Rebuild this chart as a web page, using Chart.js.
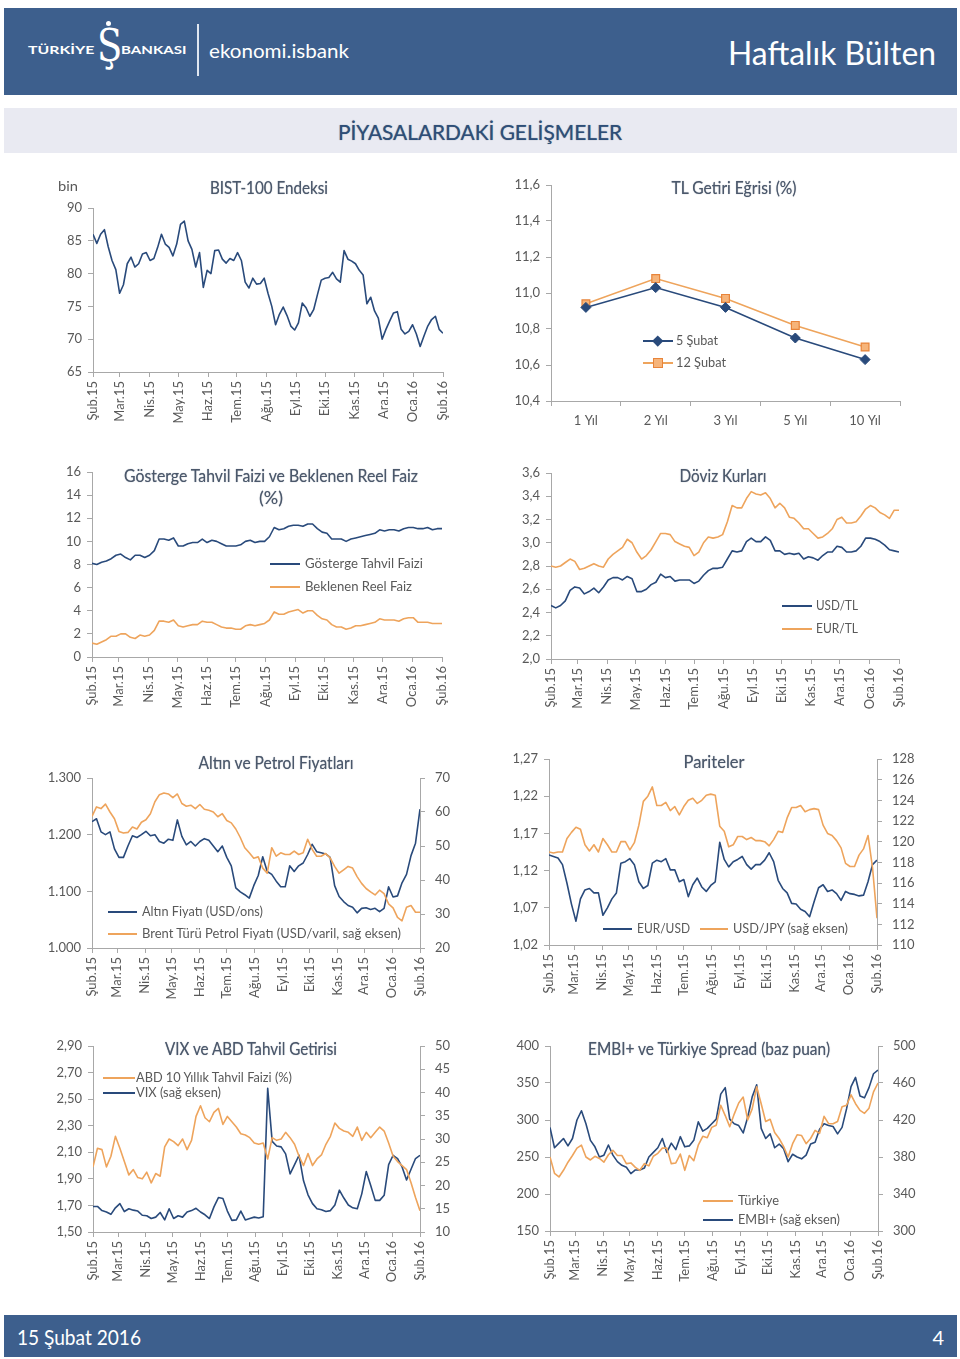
<!DOCTYPE html>
<html><head><meta charset="utf-8">
<script src="https://cdn.jsdelivr.net/npm/chart.js@4.4.1/dist/chart.umd.min.js"></script>
<style>
body{margin:0;width:960px;height:1359px;position:relative;background:#fff;font-family:Lato,'Open Sans',sans-serif;overflow:hidden}
.box{position:absolute}
.txt{position:absolute;white-space:nowrap;line-height:1.2}
.title{color:#4b586b;text-shadow:0 0 1px rgba(40,55,80,0.55)}
.leg{color:#595959}
.w{color:#fff}
</style>
</head><body>
<div class="box" style="left:4px;top:8px;width:953px;height:87px;background:#3d5f8d"></div>
<div class="box" style="left:197px;top:24px;width:1.5px;height:52px;background:#dfe6f0"></div>
<div class="box" style="left:4px;top:108px;width:953px;height:45px;background:#e9eaf2"></div>
<div class="box" style="left:4px;top:1315px;width:953px;height:42px;background:#3d5f8d"></div>
<div class="box" style="left:106px;top:21px;width:5px;height:5px;border-radius:50%;background:#fff"></div>
<script>
// ---------- DATA ----------
const MONTHS = ['Şub.15','Mar.15','Nis.15','May.15','Haz.15','Tem.15','Ağu.15','Eyl.15','Eki.15','Kas.15','Ara.15','Oca.16','Şub.16'];
const MONTH_DAYS = [0,28,59,89,120,150,181,212,242,273,303,334,365]; // days since 12 Feb 2015

const bistTicks = [65,70,75,80,85,90];
const bist = [86,84.6,86,86.7,84.1,82,80.6,77,78.3,81.5,82.5,81,81.5,83,83.2,82,82.3,84,86,84.5,84,82.7,84.5,87.5,88,85,83.7,81,83.2,77.9,80.5,80,83.5,83.6,82.2,81.6,82.3,82,83.2,82,78.7,77.8,79.3,78.4,78.5,79.3,77,75,72.2,73.8,74.9,73.6,72,71.4,72.5,75.5,74.8,73.5,74.5,76.8,79,79.3,79.4,80.2,79.2,78.7,83.5,82.2,81.9,81.5,80.5,79.8,75.4,76.4,74.3,73.2,70,71.5,72.8,74,74.2,71.5,70.8,71.2,72.2,70.8,68.9,70.5,72,73,73.5,71.5,70.9];

const tlCats = ['1 Yıl','2 Yıl','3 Yıl','5 Yıl','10 Yıl'];
const tlTicks = [10.4,10.6,10.8,11.0,11.2,11.4,11.6];
const tlFeb5 = [10.92,11.03,10.92,10.75,10.63];
const tlFeb12 = [10.94,11.08,10.97,10.82,10.70];

const faizTicks = [0,2,4,6,8,10,12,14,16];
const gosterge = [8.1,8.0,8.2,8.3,8.5,8.8,8.9,8.6,8.4,8.8,8.8,8.6,8.8,9.2,10.2,10.2,10.1,10.3,9.6,9.6,9.8,9.9,9.9,10.2,9.9,10.1,10.0,9.8,9.6,9.6,9.6,9.7,10.0,10.1,9.9,10.0,10.0,10.4,11.2,11.0,11.1,11.3,11.4,11.4,11.3,11.5,11.5,11.1,10.8,10.7,10.2,10.2,10.2,10.0,10.2,10.3,10.4,10.5,10.6,10.7,11.0,10.9,11.0,11.0,10.9,11.1,11.2,11.2,11.1,11.1,11.2,11.0,11.1,11.1];
const reelFaiz = [1.2,1.1,1.3,1.5,1.8,1.8,2.0,2.0,1.7,1.6,1.9,1.8,1.9,2.3,3.1,3.1,3.0,3.2,2.7,2.6,2.7,2.8,2.8,3.1,3.0,3.0,2.8,2.6,2.5,2.5,2.4,2.4,2.7,2.8,2.7,2.8,2.9,3.2,3.9,3.7,3.7,3.9,4.0,4.1,3.8,4.0,4.0,3.6,3.3,3.2,2.8,2.6,2.6,2.4,2.5,2.7,2.7,2.8,2.9,3.0,3.3,3.2,3.2,3.2,3.1,3.3,3.4,3.4,3.0,3.0,3.0,2.9,2.9,2.9];

const kurTicks = [2.0,2.2,2.4,2.6,2.8,3.0,3.2,3.4,3.6];
const usdTl = [2.46,2.44,2.46,2.50,2.59,2.62,2.61,2.56,2.58,2.61,2.57,2.62,2.68,2.70,2.70,2.68,2.71,2.69,2.58,2.58,2.60,2.64,2.66,2.73,2.70,2.71,2.67,2.68,2.68,2.68,2.65,2.67,2.72,2.76,2.78,2.78,2.79,2.86,2.93,2.92,2.93,3.01,3.04,3.01,3.01,3.05,3.02,2.93,2.93,2.90,2.91,2.90,2.91,2.86,2.88,2.87,2.85,2.89,2.92,2.92,2.97,2.96,2.92,2.92,2.93,2.97,3.04,3.04,3.03,3.01,2.98,2.94,2.93,2.92];
const eurTl = [2.80,2.79,2.80,2.83,2.86,2.84,2.77,2.78,2.80,2.82,2.80,2.79,2.86,2.90,2.93,2.96,3.03,3.00,2.92,2.86,2.89,2.94,3.01,3.08,3.08,3.07,3.01,2.99,2.97,2.96,2.89,2.92,3.00,3.05,3.04,3.05,3.07,3.18,3.32,3.30,3.30,3.38,3.44,3.42,3.41,3.43,3.38,3.30,3.34,3.30,3.22,3.21,3.17,3.12,3.12,3.08,3.04,3.05,3.08,3.12,3.20,3.22,3.17,3.17,3.18,3.23,3.29,3.32,3.30,3.26,3.24,3.21,3.28,3.28];

const altinTicks = [1000,1100,1200,1300];
const petrolTicks = [20,30,40,50,60,70];
const altin = [1223,1228,1205,1200,1205,1175,1160,1160,1180,1198,1195,1200,1206,1198,1200,1188,1185,1192,1190,1226,1197,1182,1188,1180,1188,1193,1190,1180,1170,1180,1160,1145,1106,1099,1094,1088,1110,1128,1161,1135,1130,1118,1108,1108,1145,1135,1145,1150,1165,1183,1170,1168,1166,1160,1110,1091,1082,1075,1072,1062,1070,1071,1068,1070,1064,1070,1108,1090,1092,1115,1130,1163,1185,1245];
const petrol = [58.7,61.5,61,62.3,60,58,54.3,53.8,54,55.6,55,57,57.7,59.5,63,65.1,65.6,65.3,64.2,65.3,62.5,61.7,62,61,62.2,60.8,60.5,60,58.6,59.5,57.5,56.8,55,52.5,49.5,48,46.4,46.8,43.5,42,49.5,47,48,47.5,47.5,48.5,47.5,48,52,49,47,47,47.8,46.5,44,42,43,44,43.5,41,39,37.5,36.5,35.6,37,36,33,31.8,29,28,32,32.5,30.5,30.5];

const eurUsdTicks = [1.02,1.07,1.12,1.17,1.22,1.27];
const usdJpyTicks = [110,112,114,116,118,120,122,124,126,128];
const eurUsd = [1.141,1.139,1.137,1.128,1.103,1.075,1.052,1.082,1.094,1.096,1.090,1.090,1.060,1.070,1.082,1.090,1.130,1.132,1.136,1.128,1.105,1.096,1.100,1.130,1.134,1.132,1.136,1.121,1.121,1.105,1.108,1.085,1.101,1.110,1.098,1.092,1.100,1.105,1.158,1.135,1.125,1.132,1.135,1.139,1.128,1.122,1.128,1.128,1.134,1.144,1.132,1.107,1.096,1.090,1.076,1.075,1.068,1.065,1.058,1.078,1.097,1.101,1.092,1.094,1.089,1.080,1.092,1.089,1.088,1.086,1.087,1.105,1.128,1.134];
const usdJpy = [119.0,118.9,119.0,119.0,120.3,120.9,121.4,121.2,119.7,119.1,119.7,119.0,120.3,119.7,119.0,119.0,120.0,120.0,119.2,119.9,121.6,123.9,124.4,125.3,123.5,123.5,123.8,123.0,123.4,122.6,123.4,124.0,124.2,123.7,124.0,124.5,124.6,124.5,121.5,121.0,119.5,119.7,120.5,120.5,120.2,120.4,120.1,120.1,120.0,119.6,120.2,121.0,120.9,122.3,123.3,123.3,123.5,122.9,123.1,123.2,123.1,121.6,120.8,120.6,120.1,119.4,117.9,117.6,117.6,118.7,119.3,120.6,117.5,112.6];

const abdTicks = [1.50,1.70,1.90,2.10,2.30,2.50,2.70,2.90];
const vixTicks = [10,15,20,25,30,35,40,45,50];
const abd10y = [1.99,2.13,2.12,1.99,2.07,2.22,2.13,2.03,1.93,1.97,1.91,1.90,1.95,1.87,1.94,1.92,2.14,2.20,2.18,2.15,2.20,2.12,2.19,2.37,2.45,2.36,2.33,2.40,2.43,2.31,2.37,2.33,2.29,2.24,2.23,2.21,2.17,2.16,2.17,2.05,2.21,2.19,2.20,2.25,2.21,2.16,2.07,2.00,2.09,2.00,2.05,2.08,2.16,2.22,2.32,2.28,2.26,2.25,2.22,2.29,2.19,2.25,2.21,2.25,2.29,2.26,2.17,2.07,2.03,2.00,1.97,1.87,1.76,1.66];
const vix = [15.5,15.5,14.6,14.3,13.8,15.2,16.1,14.4,15.0,14.7,14.5,13.6,13.5,12.9,13.2,14.2,12.6,15.0,12.9,13.5,13.2,14.3,14.6,15.1,14.3,13.7,12.9,15.4,17.4,17.2,14.5,12.5,12.6,14.5,12.6,12.9,13.2,13.0,13.3,40.9,29.5,28.5,28.3,26.8,22.5,24.5,26.5,21.0,18.0,16.1,15.0,14.8,14.4,14.6,15.8,19.0,17.3,15.8,15.2,15.0,18.2,23.0,20.0,16.8,16.8,17.9,24.5,26.5,25.8,24.0,21.2,23.5,25.8,26.5];

const trTicks = [150,200,250,300,350,400];
const embiTicks = [300,340,380,420,460,500];
const turkiye = [250,228,223,232,243,252,262,266,250,246,251,248,243,253,259,252,252,241,242,236,232,241,238,251,255,262,262,241,242,254,232,252,245,266,278,276,290,293,320,306,291,308,323,331,300,315,345,322,298,301,283,275,264,250,268,280,279,268,275,286,282,305,295,295,298,318,320,334,322,313,309,316,338,350];
const embi = [412,390,395,400,392,400,420,430,416,398,391,380,382,393,382,375,371,369,362,366,366,368,380,385,390,400,385,395,388,402,391,392,398,418,408,411,416,421,448,455,421,416,414,406,423,445,458,411,400,405,390,394,389,375,383,380,378,382,394,396,410,416,414,413,405,412,432,456,466,446,444,455,470,474];

// ---------- STYLE ----------
const NAVY = '#294a7b', ORANGE = '#eea45c', AX = '#a8a8a8', TXT = '#595959';
Chart.defaults.font.family = 'Lato, "Open Sans", sans-serif';
Chart.defaults.font.size = 13;
Chart.defaults.color = TXT;

const fInt = v => String(v);
const fC1 = v => v.toFixed(1).replace('.', ',');
const fC2 = v => v.toFixed(2).replace('.', ',');
const fTh = v => String(v).replace(/\B(?=(\d{3})+(?!\d))/g, '.');

const toXY = arr => arr.map((v, i) => ({x: i * 365 / (arr.length - 1), y: v}));

function timeAxis() {
  return {type:'linear', min:0, max:365,
    afterBuildTicks: s => { s.ticks = MONTH_DAYS.map(v => ({value:v})); },
    afterFit: s => { s.height = 60; },
    ticks:{autoSkip:false, minRotation:90, maxRotation:90, padding:4, callback:(v,i)=>MONTHS[i]},
    grid:{drawOnChartArea:false, tickLength:5, color:AX},
    border:{color:AX}};
}
function yAxis(ticks, fmt, pos) {
  return {type:'linear', position:pos, min:ticks[0], max:ticks[ticks.length-1],
    afterBuildTicks: s => { s.ticks = ticks.map(v => ({value:v})); },
    afterFit: s => { s.width = pos === 'left' ? 60 : 50; },
    ticks:{callback: v => fmt(v), padding: pos === 'left' ? 6 : 10},
    grid:{drawOnChartArea:false, tickLength:5, color:AX},
    border:{color:AX}};
}
function line(data, color, axis) {
  return {data: toXY(data), borderColor: color, borderWidth: 1.6, pointRadius: 0, tension: 0, yAxisID: axis || 'y', borderJoinStyle:'round'};
}
function makeChart(rect, cfgData, scales, dual) {
  const LW = 60, TOP = 20, BOT = 60, RW = dual ? 50 : 20;
  const W = rect.r - rect.l + LW + RW, H = rect.b - rect.t + TOP + BOT;
  const c = document.createElement('canvas');
  c.width = W; c.height = H;
  c.style.cssText = `position:absolute;left:${rect.l-LW}px;top:${rect.t-TOP}px;width:${W}px;height:${H}px`;
  document.body.appendChild(c);
  new Chart(c, {type:'line', data: cfgData, options:{responsive:false, animation:false, devicePixelRatio:1,
    layout:{padding:{top:TOP, right: dual ? 0 : RW, left:0, bottom:0}},
    plugins:{legend:{display:false}, tooltip:{enabled:false}},
    scales}});
}

// ---------- TEXT HELPERS ----------
function place(text, x, y, size, w, anchor, cls) {
  const el = document.createElement('div');
  el.className = 'txt ' + (cls || '');
  el.textContent = text;
  el.style.left = x + 'px'; el.style.top = y + 'px'; el.style.fontSize = size + 'px';
  document.body.appendChild(el);
  const nat = el.getBoundingClientRect().width;
  const tw = w || nat, s = tw / nat;
  const dx = anchor === 'c' ? -tw/2 : anchor === 'r' ? -tw : 0;
  el.style.transformOrigin = '0 0';
  el.style.transform = `translate(${dx}px,-50%) scaleX(${s})`;
  return el;
}
function hline(x1, x2, y, color) {
  const d = document.createElement('div');
  d.style.cssText = `position:absolute;left:${x1}px;top:${y-1}px;width:${x2-x1}px;height:2px;background:${color}`;
  document.body.appendChild(d);
}
function marker(x, y, size, css) {
  const d = document.createElement('div');
  d.style.cssText = `position:absolute;left:${x-size/2}px;top:${y-size/2}px;width:${size}px;height:${size}px;box-sizing:border-box;${css}`;
  document.body.appendChild(d);
}

// ---------- HEADER / FOOTER ----------
place('TÜRKİYE', 28, 50, 12, 65, 'l', 'w').style.fontWeight = 'bold';
place('BANKASI', 121, 50, 12, 64, 'l', 'w').style.fontWeight = 'bold';
const s = place('Ş', 97, 46, 44, 20, 'l', 'w'); s.style.fontFamily = '"DejaVu Serif", serif';
place('ekonomi.isbank', 209, 50, 20, 140, 'l', 'w');
place('Haftalık Bülten', 936, 53, 33, 208, 'r', 'w');
const sec = place('PİYASALARDAKİ GELİŞMELER', 480, 132, 22, 284, 'c');
sec.style.color = '#2d4e78'; sec.style.textShadow = '0 0 1px rgba(20,40,70,0.6)';
place('15 Şubat 2016', 17, 1337, 21, 124, 'l', 'w');
place('4', 944, 1337, 20, null, 'r', 'w');

// ---------- CHART 1: BIST ----------
makeChart({l:93, r:443, t:208, b:372}, {datasets:[line(bist, NAVY)]},
  {x: timeAxis(), y: yAxis(bistTicks, fInt, 'left')});
place('BIST-100 Endeksi', 269, 188, 18, 118, 'c', 'title');
place('bin', 58, 186, 14, 20, 'l', 'leg');

// ---------- CHART 2: TL Getiri ----------
makeChart({l:551, r:900, t:185, b:401}, {labels: tlCats, datasets:[
  {data: tlFeb5, borderColor: NAVY, backgroundColor: NAVY, borderWidth: 1.6, pointStyle:'rectRot', pointRadius: 5, pointBorderWidth: 1},
  {data: tlFeb12, borderColor: ORANGE, backgroundColor: '#f6b47a', pointBorderColor:'#e8843a', borderWidth: 1.6, pointStyle:'rect', pointRadius: 5.5, pointBorderWidth: 1.2}
]}, {
  x:{type:'category', offset:true, afterFit: s => { s.height = 60; },
    ticks:{minRotation:0, maxRotation:0, padding:7},
    grid:{offset:true, drawOnChartArea:false, tickLength:5, color:AX}, border:{color:AX}},
  y: yAxis(tlTicks, fC1, 'left')});
place('TL Getiri Eğrisi (%)', 734, 188, 18, 125, 'c', 'title');
hline(643, 673, 341, NAVY); marker(658, 341, 7.5, `background:${NAVY};transform:rotate(45deg)`);
hline(643, 673, 363, ORANGE); marker(658, 363, 10, 'background:#f6b47a;border:1.2px solid #e8843a');
place('5 Şubat', 676, 341, 13, 42, 'l', 'leg');
place('12 Şubat', 676, 363, 13, 50, 'l', 'leg');

// ---------- CHART 3: Gösterge ----------
makeChart({l:92, r:442, t:472, b:657}, {datasets:[line(gosterge, NAVY), line(reelFaiz, ORANGE)]},
  {x: timeAxis(), y: yAxis(faizTicks, fInt, 'left')});
place('Gösterge Tahvil Faizi ve Beklenen Reel Faiz', 271, 476, 18, 294, 'c', 'title');
place('(%)', 271, 498, 18, 24, 'c', 'title');
hline(270, 300, 564, NAVY); hline(270, 300, 587, ORANGE);
place('Gösterge Tahvil Faizi', 305, 564, 13, 118, 'l', 'leg');
place('Beklenen Reel Faiz', 305, 587, 13, 107, 'l', 'leg');

// ---------- CHART 4: Döviz ----------
makeChart({l:551, r:899, t:473, b:659}, {datasets:[line(usdTl, NAVY), line(eurTl, ORANGE)]},
  {x: timeAxis(), y: yAxis(kurTicks, fC1, 'left')});
place('Döviz Kurları', 723, 476, 18, 87, 'c', 'title');
hline(782, 812, 606, NAVY); hline(782, 812, 629, ORANGE);
place('USD/TL', 816, 606, 13, 42, 'l', 'leg');
place('EUR/TL', 816, 629, 13, 42, 'l', 'leg');

// ---------- CHART 5: Altın / Petrol ----------
makeChart({l:92, r:420, t:778, b:948}, {datasets:[line(petrol, ORANGE, 'y2'), line(altin, NAVY, 'y')]},
  {x: timeAxis(), y: yAxis(altinTicks, fTh, 'left'), y2: yAxis(petrolTicks, fInt, 'right')}, true);
place('Altın ve Petrol Fiyatları', 276, 763, 18, 155, 'c', 'title');
hline(108, 137, 912, NAVY); hline(108, 137, 934, ORANGE);
place('Altın Fiyatı (USD/ons)', 142, 912, 13, 121, 'l', 'leg');
place('Brent Türü Petrol Fiyatı (USD/varil, sağ eksen)', 142, 934, 13, 259, 'l', 'leg');

// ---------- CHART 6: Pariteler ----------
makeChart({l:549, r:877, t:759, b:945}, {datasets:[line(usdJpy, ORANGE, 'y2'), line(eurUsd, NAVY, 'y')]},
  {x: timeAxis(), y: yAxis(eurUsdTicks, fC2, 'left'), y2: yAxis(usdJpyTicks, fInt, 'right')}, true);
place('Pariteler', 714, 762, 18, 61, 'c', 'title');
hline(603, 632, 929, NAVY); hline(700, 728, 929, ORANGE);
place('EUR/USD', 637, 929, 13, 53, 'l', 'leg');
place('USD/JPY (sağ eksen)', 733, 929, 13, 115, 'l', 'leg');

// ---------- CHART 7: VIX / ABD ----------
makeChart({l:93, r:420, t:1046, b:1232}, {datasets:[line(abd10y, ORANGE, 'y'), line(vix, NAVY, 'y2')]},
  {x: timeAxis(), y: yAxis(abdTicks, fC2, 'left'), y2: yAxis(vixTicks, fInt, 'right')}, true);
place('VIX ve ABD Tahvil Getirisi', 251, 1049, 18, 172, 'c', 'title');
hline(103, 135, 1078, ORANGE); hline(103, 135, 1093, NAVY);
place('ABD 10 Yıllık Tahvil Faizi (%)', 136, 1078, 13, 156, 'l', 'leg');
place('VIX (sağ eksen)', 136, 1093, 13, 85, 'l', 'leg');

// ---------- CHART 8: EMBI ----------
makeChart({l:550, r:878, t:1046, b:1231}, {datasets:[line(turkiye, ORANGE, 'y'), line(embi, NAVY, 'y2')]},
  {x: timeAxis(), y: yAxis(trTicks, fInt, 'left'), y2: yAxis(embiTicks, fInt, 'right')}, true);
place('EMBI+ ve Türkiye Spread (baz puan)', 709, 1049, 18, 242, 'c', 'title');
hline(703, 733, 1201, ORANGE); hline(703, 733, 1220, NAVY);
place('Türkiye', 738, 1201, 13, 41, 'l', 'leg');
place('EMBI+ (sağ eksen)', 738, 1220, 13, 102, 'l', 'leg');
</script>
</body></html>
